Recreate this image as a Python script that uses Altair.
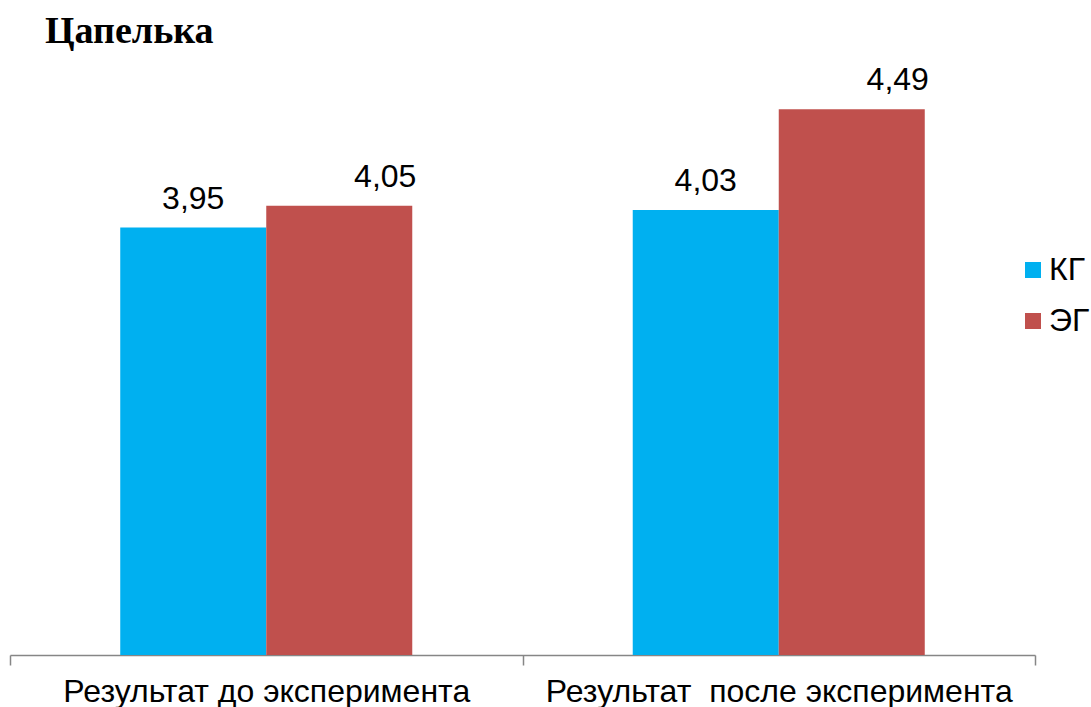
import altair as alt
import pandas as pd

# Chart content
title_text = "Цапелька"
categories = ["Результат до эксперимента", "Результат\u00a0 после эксперимента"]
groups = ["КГ", "ЭГ"]
kg_values = [3.95, 4.03]
eg_values = [4.05, 4.49]
group_colors = ["#00B0F0", "#C0504D"]
y_domain = [2, 4.5]

rows = []
for cat, kg, eg in zip(categories, kg_values, eg_values):
    rows.append({"category": cat, "group": groups[0], "value": kg})
    rows.append({"category": cat, "group": groups[1], "value": eg})
df = pd.DataFrame(rows)
df["label"] = df["value"].map(lambda v: f"{v:.2f}".replace(".", ","))

FONT = "Liberation Sans"
FS = 32

# categories fill the whole width; ticks sit on the category boundaries
x_enc = alt.X(
    "category:N",
    sort=categories,
    scale=alt.Scale(paddingInner=0, paddingOuter=0),
    axis=alt.Axis(
        title=None,
        labelAngle=0,
        labelFont=FONT,
        labelFontSize=FS,
        labelColor="black",
        labelPadding=11,
        labelLimit=0,
        domainColor="#868686",
        domainWidth=1.5,
        tickColor="#868686",
        tickWidth=1.5,
        tickSize=10,
        tickBand="extent",
        grid=False,
    ),
)
# the two bars of a group are centred in the category with a gap either side
xoff_enc = alt.XOffset("group:N", sort=groups, scale=alt.Scale(paddingInner=0, paddingOuter=0.755))
y_enc = alt.Y("value:Q", scale=alt.Scale(domain=y_domain), axis=None)

base = alt.Chart(df)

# bars start at the bottom of the value axis
bars = base.mark_bar().encode(
    x=x_enc,
    xOffset=xoff_enc,
    y=y_enc,
    y2=alt.datum(y_domain[0]),
    color=alt.Color(
        "group:N",
        sort=groups,
        scale=alt.Scale(domain=groups, range=group_colors),
        legend=alt.Legend(
            title=None,
            orient="none",
            legendX=1007,
            legendY=147,
            symbolType="square",
            symbolSize=256,
            symbolStrokeWidth=0,
            labelFont=FONT,
            labelFontSize=FS,
            labelColor="black",
            labelOffset=0,
            rowPadding=19,
            padding=0,
        ),
    ),
)

labels_kg = base.transform_filter(alt.datum.group == groups[0]).mark_text(
    font=FONT, fontSize=FS, color="black", baseline="alphabetic", dy=-19
).encode(x=x_enc, xOffset=xoff_enc, y=y_enc, text="label:N")

labels_eg = base.transform_filter(alt.datum.group == groups[1]).mark_text(
    font=FONT, fontSize=FS, color="black", baseline="alphabetic", dy=-19, dx=46
).encode(x=x_enc, xOffset=xoff_enc, y=y_enc, text="label:N")

chart = (
    alt.layer(bars, labels_kg, labels_eg)
    .properties(
        width=1025,
        height=548,
        autosize=alt.AutoSizeParams(type="none"),
        padding={"left": 10, "top": 107, "right": 56, "bottom": 52},
        view=alt.ViewBackground(stroke="transparent", strokeWidth=0),
        title=alt.TitleParams(
            title_text,
            anchor="start",
            frame="group",
            font="Liberation Serif",
            fontSize=38,
            fontWeight="bold",
            color="black",
            baseline="alphabetic",
            dx=35,
            dy=39,
            offset=22,
        ),
    )
    .configure_view(stroke="transparent", strokeWidth=0)
    .configure(background="white")
)

chart.save("out.html", embed_options={"renderer": "svg", "actions": False})
